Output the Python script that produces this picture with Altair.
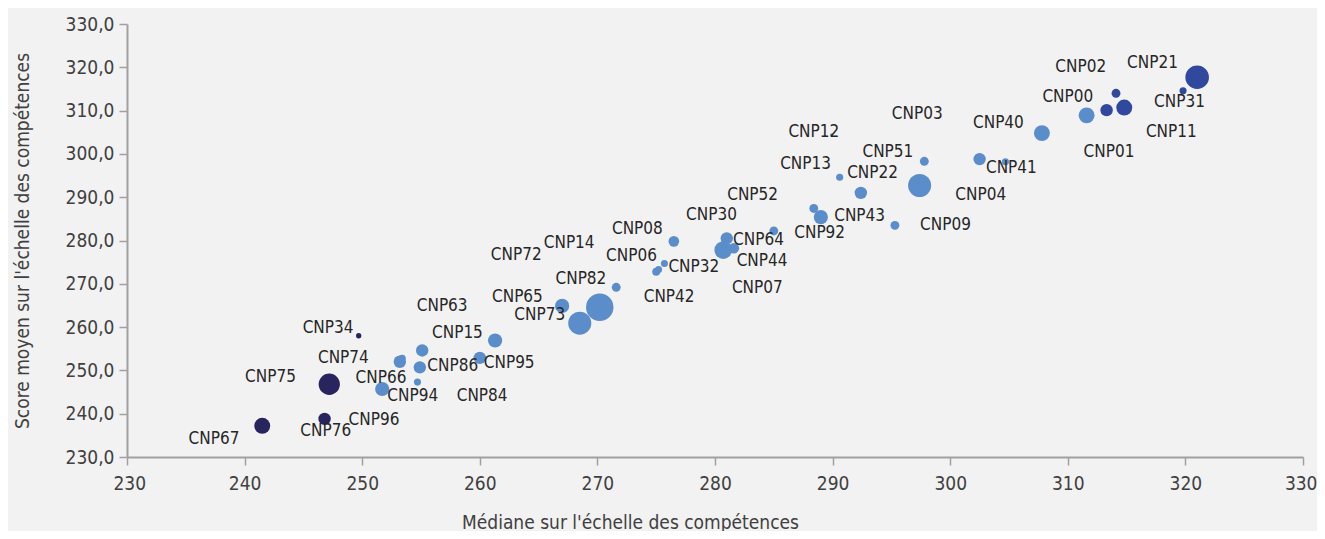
import altair as alt
import pandas as pd

codes = ["CNP00", "CNP01", "CNP11", "CNP02", "CNP31", "CNP21",
         "CNP40", "CNP41", "CNP03", "CNP51", "CNP04",
         "CNP12", "CNP13", "CNP22", "CNP09", "CNP43", "CNP92",
         "CNP52", "CNP30", "CNP64", "CNP44", "CNP07",
         "CNP08", "CNP32", "CNP06", "CNP42",
         "CNP82", "CNP72", "CNP65", "CNP73", "CNP14",
         "CNP15", "CNP95", "CNP63", "CNP86", "CNP94", "CNP74", "CNP84", "CNP66",
         "CNP34", "CNP75", "CNP76", "CNP96", "CNP67"]

mediane = [311.6, 313.3, 314.8, 314.1, 319.8, 321.0,
           307.8, 304.7, 302.5, 297.8, 297.4,
           289.9, 290.6, 292.4, 295.3, 288.4, 289.0,
           285.0, 281.0, 281.6, 280.7, 280.9,
           276.5, 275.7, 275.0, 275.2,
           271.6, 270.2, 267.0, 268.5, 270.0,
           261.3, 260.0, 255.1, 254.9, 254.7, 253.2, 253.4, 251.7,
           249.7, 247.2, 246.8, 246.9, 241.5]

score = [308.9, 310.1, 310.7, 314.0, 314.6, 317.7,
         304.8, 298.2, 298.8, 298.3, 292.7,
         304.4, 294.6, 291.0, 283.5, 287.4, 285.4,
         282.2, 280.5, 278.2, 277.8, 278.5,
         279.8, 274.7, 272.8, 273.3,
         269.2, 264.6, 264.9, 260.9, 265.5,
         256.9, 252.9, 254.6, 250.7, 247.3, 252.0, 252.8, 245.7,
         258.0, 246.8, 238.8, 239.0, 237.2]

poids = [81, 49, 81, 25, 16, 177,
         81, 16, 49, 25, 169,
         2.3, 16, 49, 25, 25, 64,
         25, 49, 36, 100, 25,
         36, 16, 20, 16,
         25, 240, 64, 169, 36,
         64, 49, 49, 49, 16, 49, 16, 64,
         9, 144, 49, 16, 81]

groupe = ["A", "B", "B", "B", "B", "B",
          "A", "A", "A", "A", "A",
          "A", "A", "A", "A", "A", "A",
          "A", "A", "A", "A", "A",
          "A", "A", "A", "A",
          "A", "A", "A", "A", "A",
          "A", "A", "A", "A", "A", "A", "A", "A",
          "C", "C", "C", "C", "C"]

etiquette_x = [310.0, 313.5, 318.8, 311.1, 319.5, 317.2,
               304.1, 305.2, 297.2, 294.7, 302.6,
               288.4, 287.7, 293.4, 299.6, 292.3, 288.9,
               283.2, 279.7, 283.7, 284.0, 283.6,
               273.4, 278.2, 272.9, 276.1,
               268.6, 263.1, 263.2, 265.1, 267.6,
               258.1, 262.5, 256.8, 257.7, 254.3, 248.4, 260.2, 251.6,
               247.1, 242.2, 246.9, 251.0, 237.4]

etiquette_y = [313.1, 300.5, 305.1, 320.1, 312.1, 321.1,
               307.1, 296.7, 309.2, 300.4, 290.5,
               305.1, 297.6, 295.5, 283.6, 285.7, 281.7,
               290.5, 285.9, 280.1, 275.3, 269.1,
               282.6, 273.8, 276.5, 267.0,
               271.0, 276.7, 267.0, 262.8, 279.5,
               258.7, 251.6, 264.9, 251.0, 244.1, 252.9, 244.1, 248.3,
               259.7, 248.5, 236.0, 238.5, 234.2]

df = pd.DataFrame({
    "code": codes, "mediane": mediane, "score": score, "poids": poids,
    "groupe": groupe, "lx": etiquette_x, "ly": etiquette_y,
})

FONT = "Liberation Sans Narrow, DejaVu Sans Condensed, Arial Narrow, sans-serif"

x_scale = alt.Scale(domain=[230, 330], nice=False, zero=False)
y_scale = alt.Scale(domain=[230, 330], nice=False, zero=False)

points = alt.Chart(df).mark_circle(opacity=1).encode(
    x=alt.X("mediane:Q", scale=x_scale,
            axis=alt.Axis(title="Médiane sur l'échelle des compétences",
                          values=list(range(230, 331, 10)), format="d",
                          grid=False, tickSize=8, labelPadding=9,
                          labelOverlap=False, labelFlush=True, labelFlushOffset=14,
                          titleX=503, titleY=65, titleBaseline="middle",
                          titleAlign="center")),
    y=alt.Y("score:Q", scale=y_scale,
            axis=alt.Axis(title="Score moyen sur l'échelle des compétences",
                          values=list(range(230, 331, 10)),
                          labelExpr="replace(format(datum.value, '.1f'), '.', ',')",
                          grid=False, tickSize=8, labelPadding=5,
                          labelOverlap=False, labelFlush=False,
                          titleX=-105, titleY=216.5, titleAngle=-90,
                          titleAlign="center", titleBaseline="middle")),
    size=alt.Size("poids:Q", scale=alt.Scale(type="linear", domain=[0, 240], range=[0, 754]),
                  legend=None),
    color=alt.Color("groupe:N",
                    scale=alt.Scale(domain=["A", "B", "C"],
                                    range=["#5b8dcb", "#30499f", "#27245e"]),
                    legend=None),
)

labels = alt.Chart(df).mark_text(
    font=FONT, fontSize=17, color="#262626", align="center", baseline="middle"
).encode(
    x=alt.X("lx:Q", scale=x_scale),
    y=alt.Y("ly:Q", scale=y_scale),
    text="code:N",
)

chart = alt.layer(points, labels).properties(
    width=1176, height=433,
    autosize=alt.AutoSizeParams(type="none"),
    padding={"left": 119, "top": 16, "right": 14, "bottom": 74},
    background="#f2f2f2",
).configure_view(stroke=None).configure_axis(
    domainColor="#a0a0a0", domainWidth=2, tickColor="#a0a0a0", tickWidth=1.5,
    labelFont=FONT, labelFontSize=19, labelColor="#404040",
    titleFont=FONT, titleFontSize=19, titleColor="#404040", titleFontWeight="normal",
)

chart.save("out.html", embed_options={"renderer": "svg", "actions": False})
